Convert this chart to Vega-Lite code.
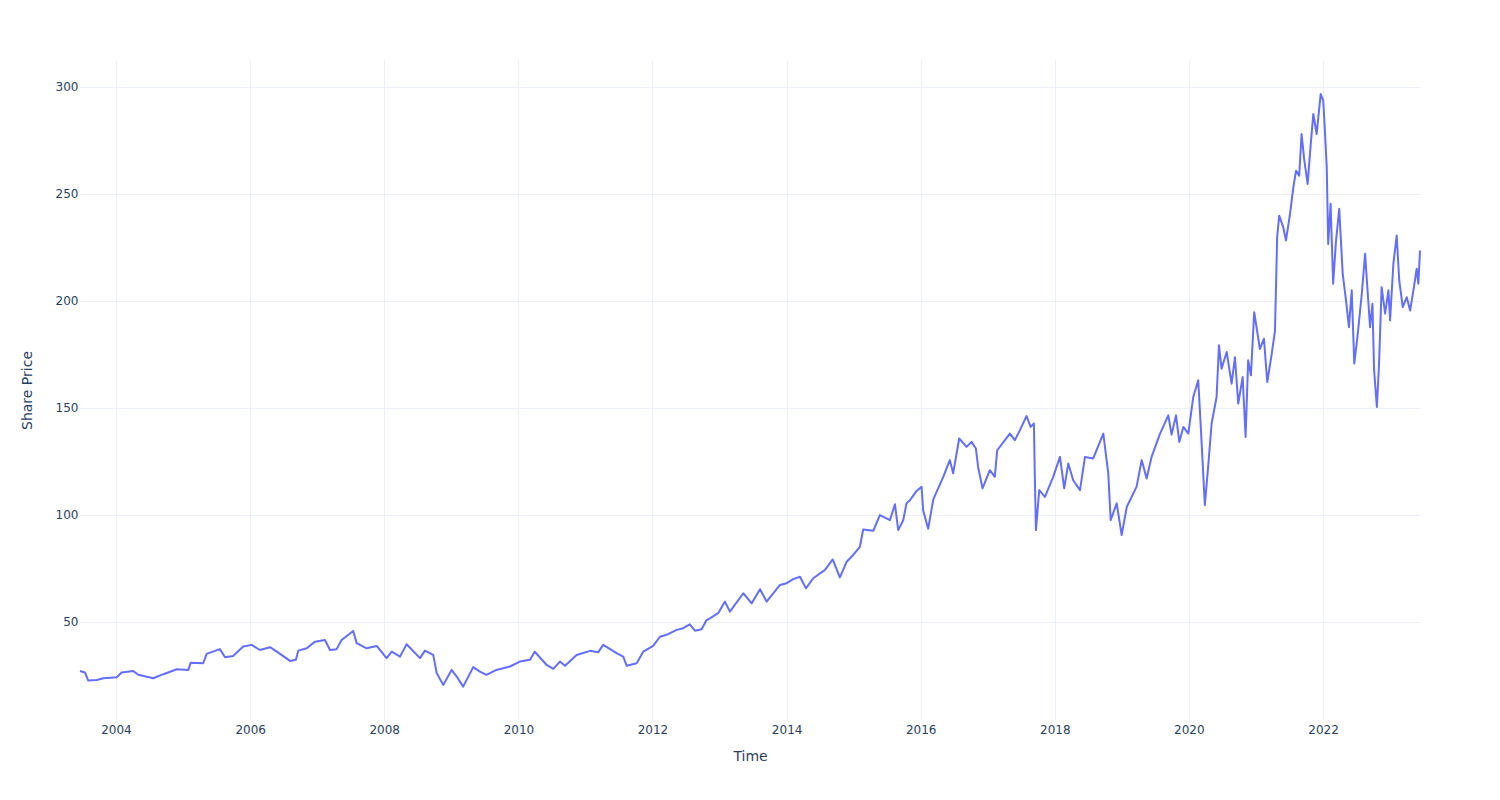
{
  "$schema": "https://vega.github.io/schema/vega-lite/v6.json",
  "width": 1340,
  "height": 660,
  "autosize": {"type": "none"},
  "padding": {"left": 80, "top": 60, "right": 80, "bottom": 80},
  "background": "white",
  "config": {
    "view": {"stroke": null},
    "font": "DejaVu Sans",
    "axis": {
      "domain": false,
      "ticks": false,
      "tickSize": 0,
      "gridColor": "#EBF0F8",
      "gridWidth": 1,
      "labelColor": "#2a3f5f",
      "labelFont": "DejaVu Sans",
      "labelFontSize": 12,
      "titleColor": "#2a3f5f",
      "titleFont": "DejaVu Sans",
      "titleFontSize": 14,
      "titleFontWeight": "normal"
    }
  },
  "data": {
    "values": [
      {"date": "2003-06-19", "price": 27.1},
      {"date": "2003-07-16", "price": 26.4},
      {"date": "2003-08-03", "price": 22.6},
      {"date": "2003-09-18", "price": 22.9},
      {"date": "2003-10-24", "price": 23.7},
      {"date": "2004-01-05", "price": 24.2},
      {"date": "2004-02-01", "price": 26.4},
      {"date": "2004-04-04", "price": 27.1},
      {"date": "2004-05-01", "price": 25.3},
      {"date": "2004-07-22", "price": 23.7},
      {"date": "2004-09-15", "price": 25.6},
      {"date": "2004-11-27", "price": 27.9},
      {"date": "2005-01-29", "price": 27.6},
      {"date": "2005-02-11", "price": 31.0},
      {"date": "2005-04-20", "price": 30.7},
      {"date": "2005-05-09", "price": 35.1},
      {"date": "2005-07-20", "price": 37.3},
      {"date": "2005-08-17", "price": 33.5},
      {"date": "2005-09-30", "price": 34.1},
      {"date": "2005-11-24", "price": 38.5},
      {"date": "2006-01-09", "price": 39.3},
      {"date": "2006-02-23", "price": 36.9},
      {"date": "2006-04-19", "price": 38.2},
      {"date": "2006-06-03", "price": 35.7},
      {"date": "2006-08-06", "price": 31.8},
      {"date": "2006-09-07", "price": 32.3},
      {"date": "2006-09-20", "price": 36.6},
      {"date": "2006-11-05", "price": 37.7},
      {"date": "2006-12-20", "price": 40.8},
      {"date": "2007-02-12", "price": 41.6},
      {"date": "2007-03-12", "price": 36.9},
      {"date": "2007-04-17", "price": 37.3},
      {"date": "2007-05-14", "price": 41.6},
      {"date": "2007-07-16", "price": 45.8},
      {"date": "2007-08-04", "price": 40.1},
      {"date": "2007-09-27", "price": 37.7},
      {"date": "2007-11-21", "price": 38.8},
      {"date": "2008-01-14", "price": 33.1},
      {"date": "2008-02-11", "price": 36.1},
      {"date": "2008-03-27", "price": 33.8},
      {"date": "2008-05-02", "price": 39.6},
      {"date": "2008-07-14", "price": 33.1},
      {"date": "2008-08-10", "price": 36.6},
      {"date": "2008-09-24", "price": 34.6},
      {"date": "2008-10-13", "price": 26.1},
      {"date": "2008-11-18", "price": 20.6},
      {"date": "2009-01-02", "price": 27.6},
      {"date": "2009-01-30", "price": 24.5},
      {"date": "2009-03-06", "price": 19.8},
      {"date": "2009-04-30", "price": 28.9},
      {"date": "2009-06-05", "price": 26.8},
      {"date": "2009-07-11", "price": 25.3},
      {"date": "2009-09-03", "price": 27.6},
      {"date": "2009-10-10", "price": 28.4},
      {"date": "2009-11-16", "price": 29.2},
      {"date": "2010-01-09", "price": 31.5},
      {"date": "2010-03-05", "price": 32.3},
      {"date": "2010-03-31", "price": 36.1},
      {"date": "2010-06-04", "price": 29.9},
      {"date": "2010-07-10", "price": 28.1},
      {"date": "2010-08-15", "price": 31.5},
      {"date": "2010-09-12", "price": 29.5},
      {"date": "2010-11-14", "price": 34.6},
      {"date": "2011-01-26", "price": 36.5},
      {"date": "2011-03-12", "price": 35.9},
      {"date": "2011-04-08", "price": 39.3},
      {"date": "2011-06-20", "price": 35.4},
      {"date": "2011-07-26", "price": 33.8},
      {"date": "2011-08-14", "price": 29.5},
      {"date": "2011-10-07", "price": 30.7},
      {"date": "2011-11-12", "price": 36.1},
      {"date": "2012-01-05", "price": 38.8},
      {"date": "2012-02-11", "price": 43.1},
      {"date": "2012-03-18", "price": 44.0},
      {"date": "2012-05-12", "price": 46.3},
      {"date": "2012-06-17", "price": 47.1},
      {"date": "2012-07-22", "price": 48.9},
      {"date": "2012-08-20", "price": 45.9},
      {"date": "2012-09-25", "price": 46.6},
      {"date": "2012-10-22", "price": 50.9},
      {"date": "2012-11-09", "price": 51.7},
      {"date": "2012-12-24", "price": 54.1},
      {"date": "2013-01-30", "price": 59.5},
      {"date": "2013-02-26", "price": 54.8},
      {"date": "2013-05-10", "price": 63.4},
      {"date": "2013-06-25", "price": 58.7},
      {"date": "2013-08-09", "price": 65.3},
      {"date": "2013-09-14", "price": 59.5},
      {"date": "2013-11-26", "price": 67.3},
      {"date": "2014-01-01", "price": 68.1},
      {"date": "2014-02-06", "price": 70.0},
      {"date": "2014-03-15", "price": 71.1},
      {"date": "2014-04-16", "price": 65.7},
      {"date": "2014-05-26", "price": 70.4},
      {"date": "2014-07-29", "price": 74.3},
      {"date": "2014-09-09", "price": 79.2},
      {"date": "2014-10-18", "price": 70.8},
      {"date": "2014-11-24", "price": 78.1},
      {"date": "2014-12-30", "price": 81.3},
      {"date": "2015-02-04", "price": 85.1},
      {"date": "2015-02-22", "price": 93.2},
      {"date": "2015-04-18", "price": 92.6},
      {"date": "2015-05-24", "price": 99.9},
      {"date": "2015-07-18", "price": 97.6},
      {"date": "2015-08-14", "price": 105.0},
      {"date": "2015-09-01", "price": 92.9},
      {"date": "2015-09-28", "price": 97.5},
      {"date": "2015-10-16", "price": 105.4},
      {"date": "2015-11-04", "price": 106.9},
      {"date": "2015-12-10", "price": 111.2},
      {"date": "2016-01-06", "price": 113.1},
      {"date": "2016-01-15", "price": 102.0},
      {"date": "2016-02-11", "price": 93.5},
      {"date": "2016-03-10", "price": 107.3},
      {"date": "2016-05-03", "price": 117.8},
      {"date": "2016-06-08", "price": 125.6},
      {"date": "2016-06-26", "price": 119.4},
      {"date": "2016-07-29", "price": 135.7},
      {"date": "2016-09-07", "price": 131.8},
      {"date": "2016-10-04", "price": 134.1},
      {"date": "2016-10-28", "price": 131.0},
      {"date": "2016-11-09", "price": 122.4},
      {"date": "2016-12-03", "price": 112.4},
      {"date": "2017-01-12", "price": 120.9},
      {"date": "2017-02-08", "price": 117.8},
      {"date": "2017-02-21", "price": 130.2},
      {"date": "2017-05-01", "price": 138.0},
      {"date": "2017-05-28", "price": 134.9},
      {"date": "2017-06-25", "price": 139.6},
      {"date": "2017-07-31", "price": 146.2},
      {"date": "2017-08-22", "price": 141.1},
      {"date": "2017-09-09", "price": 142.7},
      {"date": "2017-09-14", "price": 117.8},
      {"date": "2017-09-20", "price": 92.9},
      {"date": "2017-10-08", "price": 111.6},
      {"date": "2017-11-08", "price": 108.4},
      {"date": "2017-12-23", "price": 117.8},
      {"date": "2018-01-29", "price": 127.1},
      {"date": "2018-02-21", "price": 112.4},
      {"date": "2018-03-15", "price": 124.0},
      {"date": "2018-04-11", "price": 116.2},
      {"date": "2018-05-18", "price": 111.6},
      {"date": "2018-06-14", "price": 127.1},
      {"date": "2018-07-29", "price": 126.4},
      {"date": "2018-09-22", "price": 138.0},
      {"date": "2018-10-19", "price": 119.4},
      {"date": "2018-11-01", "price": 97.6},
      {"date": "2018-12-04", "price": 105.4},
      {"date": "2018-12-31", "price": 90.6},
      {"date": "2019-01-28", "price": 103.8},
      {"date": "2019-03-22", "price": 113.1},
      {"date": "2019-04-19", "price": 125.6},
      {"date": "2019-05-16", "price": 117.0},
      {"date": "2019-06-12", "price": 127.1},
      {"date": "2019-07-28", "price": 138.0},
      {"date": "2019-09-11", "price": 146.5},
      {"date": "2019-09-29", "price": 137.5},
      {"date": "2019-10-23", "price": 146.5},
      {"date": "2019-11-10", "price": 134.1},
      {"date": "2019-12-02", "price": 141.1},
      {"date": "2019-12-29", "price": 138.0},
      {"date": "2020-01-25", "price": 155.1},
      {"date": "2020-02-21", "price": 162.9},
      {"date": "2020-03-05", "price": 142.7},
      {"date": "2020-03-28", "price": 104.6},
      {"date": "2020-04-15", "price": 122.4},
      {"date": "2020-05-04", "price": 142.7},
      {"date": "2020-05-31", "price": 155.1},
      {"date": "2020-06-13", "price": 179.2},
      {"date": "2020-06-27", "price": 168.3},
      {"date": "2020-07-25", "price": 176.1},
      {"date": "2020-08-21", "price": 161.3},
      {"date": "2020-09-08", "price": 173.7},
      {"date": "2020-09-26", "price": 152.0},
      {"date": "2020-10-20", "price": 164.4},
      {"date": "2020-11-05", "price": 136.4},
      {"date": "2020-11-19", "price": 172.2},
      {"date": "2020-12-04", "price": 165.2},
      {"date": "2020-12-22", "price": 194.7},
      {"date": "2021-01-22", "price": 177.5},
      {"date": "2021-02-13", "price": 182.3},
      {"date": "2021-03-03", "price": 162.1},
      {"date": "2021-03-27", "price": 175.0},
      {"date": "2021-04-14", "price": 186.0},
      {"date": "2021-04-26", "price": 229.7},
      {"date": "2021-05-07", "price": 239.8},
      {"date": "2021-05-29", "price": 234.4},
      {"date": "2021-06-13", "price": 228.2},
      {"date": "2021-07-05", "price": 240.6},
      {"date": "2021-07-23", "price": 253.0},
      {"date": "2021-08-07", "price": 260.8},
      {"date": "2021-08-24", "price": 258.5},
      {"date": "2021-09-06", "price": 277.9},
      {"date": "2021-09-21", "price": 265.5},
      {"date": "2021-10-09", "price": 254.6},
      {"date": "2021-10-26", "price": 273.3},
      {"date": "2021-11-09", "price": 287.3},
      {"date": "2021-11-27", "price": 277.9},
      {"date": "2021-12-19", "price": 296.6},
      {"date": "2022-01-02", "price": 293.5},
      {"date": "2022-01-11", "price": 279.5},
      {"date": "2022-01-21", "price": 262.4},
      {"date": "2022-01-29", "price": 226.6},
      {"date": "2022-02-11", "price": 245.3},
      {"date": "2022-02-25", "price": 208.0},
      {"date": "2022-03-12", "price": 227.4},
      {"date": "2022-03-30", "price": 243.0},
      {"date": "2022-04-18", "price": 212.6},
      {"date": "2022-05-06", "price": 200.2},
      {"date": "2022-05-22", "price": 187.7},
      {"date": "2022-06-06", "price": 204.9},
      {"date": "2022-06-20", "price": 170.7},
      {"date": "2022-07-09", "price": 184.6},
      {"date": "2022-07-31", "price": 203.3},
      {"date": "2022-08-18", "price": 222.0},
      {"date": "2022-08-30", "price": 206.4},
      {"date": "2022-09-14", "price": 187.7},
      {"date": "2022-09-27", "price": 198.6},
      {"date": "2022-10-06", "price": 167.5},
      {"date": "2022-10-21", "price": 150.4},
      {"date": "2022-11-02", "price": 170.7},
      {"date": "2022-11-16", "price": 206.4},
      {"date": "2022-12-05", "price": 194.0},
      {"date": "2022-12-23", "price": 204.9},
      {"date": "2023-01-01", "price": 190.9},
      {"date": "2023-01-19", "price": 217.3},
      {"date": "2023-02-06", "price": 230.5},
      {"date": "2023-02-20", "price": 209.5},
      {"date": "2023-03-11", "price": 197.1},
      {"date": "2023-04-02", "price": 201.7},
      {"date": "2023-04-20", "price": 195.5},
      {"date": "2023-05-11", "price": 206.4},
      {"date": "2023-05-26", "price": 215.0},
      {"date": "2023-06-04", "price": 208.0},
      {"date": "2023-06-13", "price": 223.5}
    ]
  },
  "mark": {"type": "line", "color": "#636efa", "strokeWidth": 2, "strokeJoin": "round"},
  "encoding": {
    "x": {
      "field": "date",
      "type": "temporal",
      "scale": {"type": "utc", "domain": ["2003-06-19", "2023-06-13"], "nice": false},
      "axis": {
        "title": "Time",
        "format": "%Y",
        "tickCount": {"interval": "year", "step": 2},
        "labelPadding": 4,
        "labelFlush": false,
        "titleX": 670,
        "titleY": 36,
        "titleBaseline": "middle",
        "titleAlign": "center"
      }
    },
    "y": {
      "field": "price",
      "type": "quantitative",
      "scale": {"domain": [4.2, 312.5], "nice": false, "zero": false},
      "axis": {
        "title": "Share Price",
        "values": [50, 100, 150, 200, 250, 300],
        "labelPadding": 2,
        "titleX": -53,
        "titleY": 330,
        "titleBaseline": "middle",
        "titleAlign": "center",
        "titleAngle": -90
      }
    }
  }
}
